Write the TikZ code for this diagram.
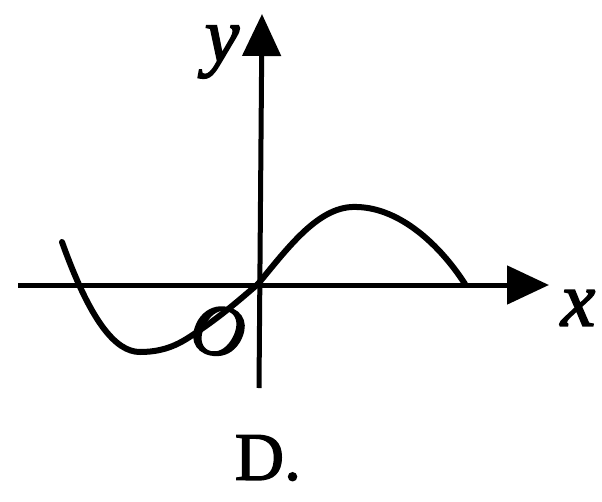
\documentclass[tikz,border=0pt]{standalone}
\usepackage{fontspec}
\setmainfont{Liberation Serif}
\newfontfamily\heavyserif[FakeBold=2]{Liberation Serif}
\usetikzlibrary{arrows.meta}
\begin{document}
\begin{tikzpicture}[x=1pt,y=-1pt,
  axis/.style={line width=5pt,-{Triangle[length=42pt,width=38pt]}},
  curve/.style={line width=6pt,line cap=round,line join=round},
  lbl/.style={inner sep=0pt,font=\fontsize{78}{78}\selectfont\heavyserif\itshape}]
\useasboundingbox (0,0) rectangle (602,501);
\coordinate (xs) at (18,285);
\coordinate (xe) at (549,285);
\coordinate (ys) at (259,388);
\coordinate (ye) at (262,14);
\coordinate (o) at (258,284);
\draw[axis] (xs) -- (xe);
\draw[axis] (ys) -- (ye);
\node[lbl] (xl) at (578,308) {x};
\node[lbl] (yl) at (222,52) {y};
\node[lbl,font=\fontsize{74}{74}\selectfont\heavyserif\itshape,rotate=-12] (ol) at (218,331) {O};
\draw[curve] (62,242) .. controls (90,320) and (115,352) .. (140,352)
   .. controls (170,352) and (185,340) .. (200,330)
   .. controls (225,313) and (245,295) .. (o);
\draw[curve] (o) .. controls (290,245) and (320,205) .. (357,207)
   .. controls (400,208) and (440,245) .. (465,284);
\node[inner sep=0pt,font=\fontsize{68}{68}\selectfont\heavyserif] (d) at (268,458) {D.};
\end{tikzpicture}
\end{document}
